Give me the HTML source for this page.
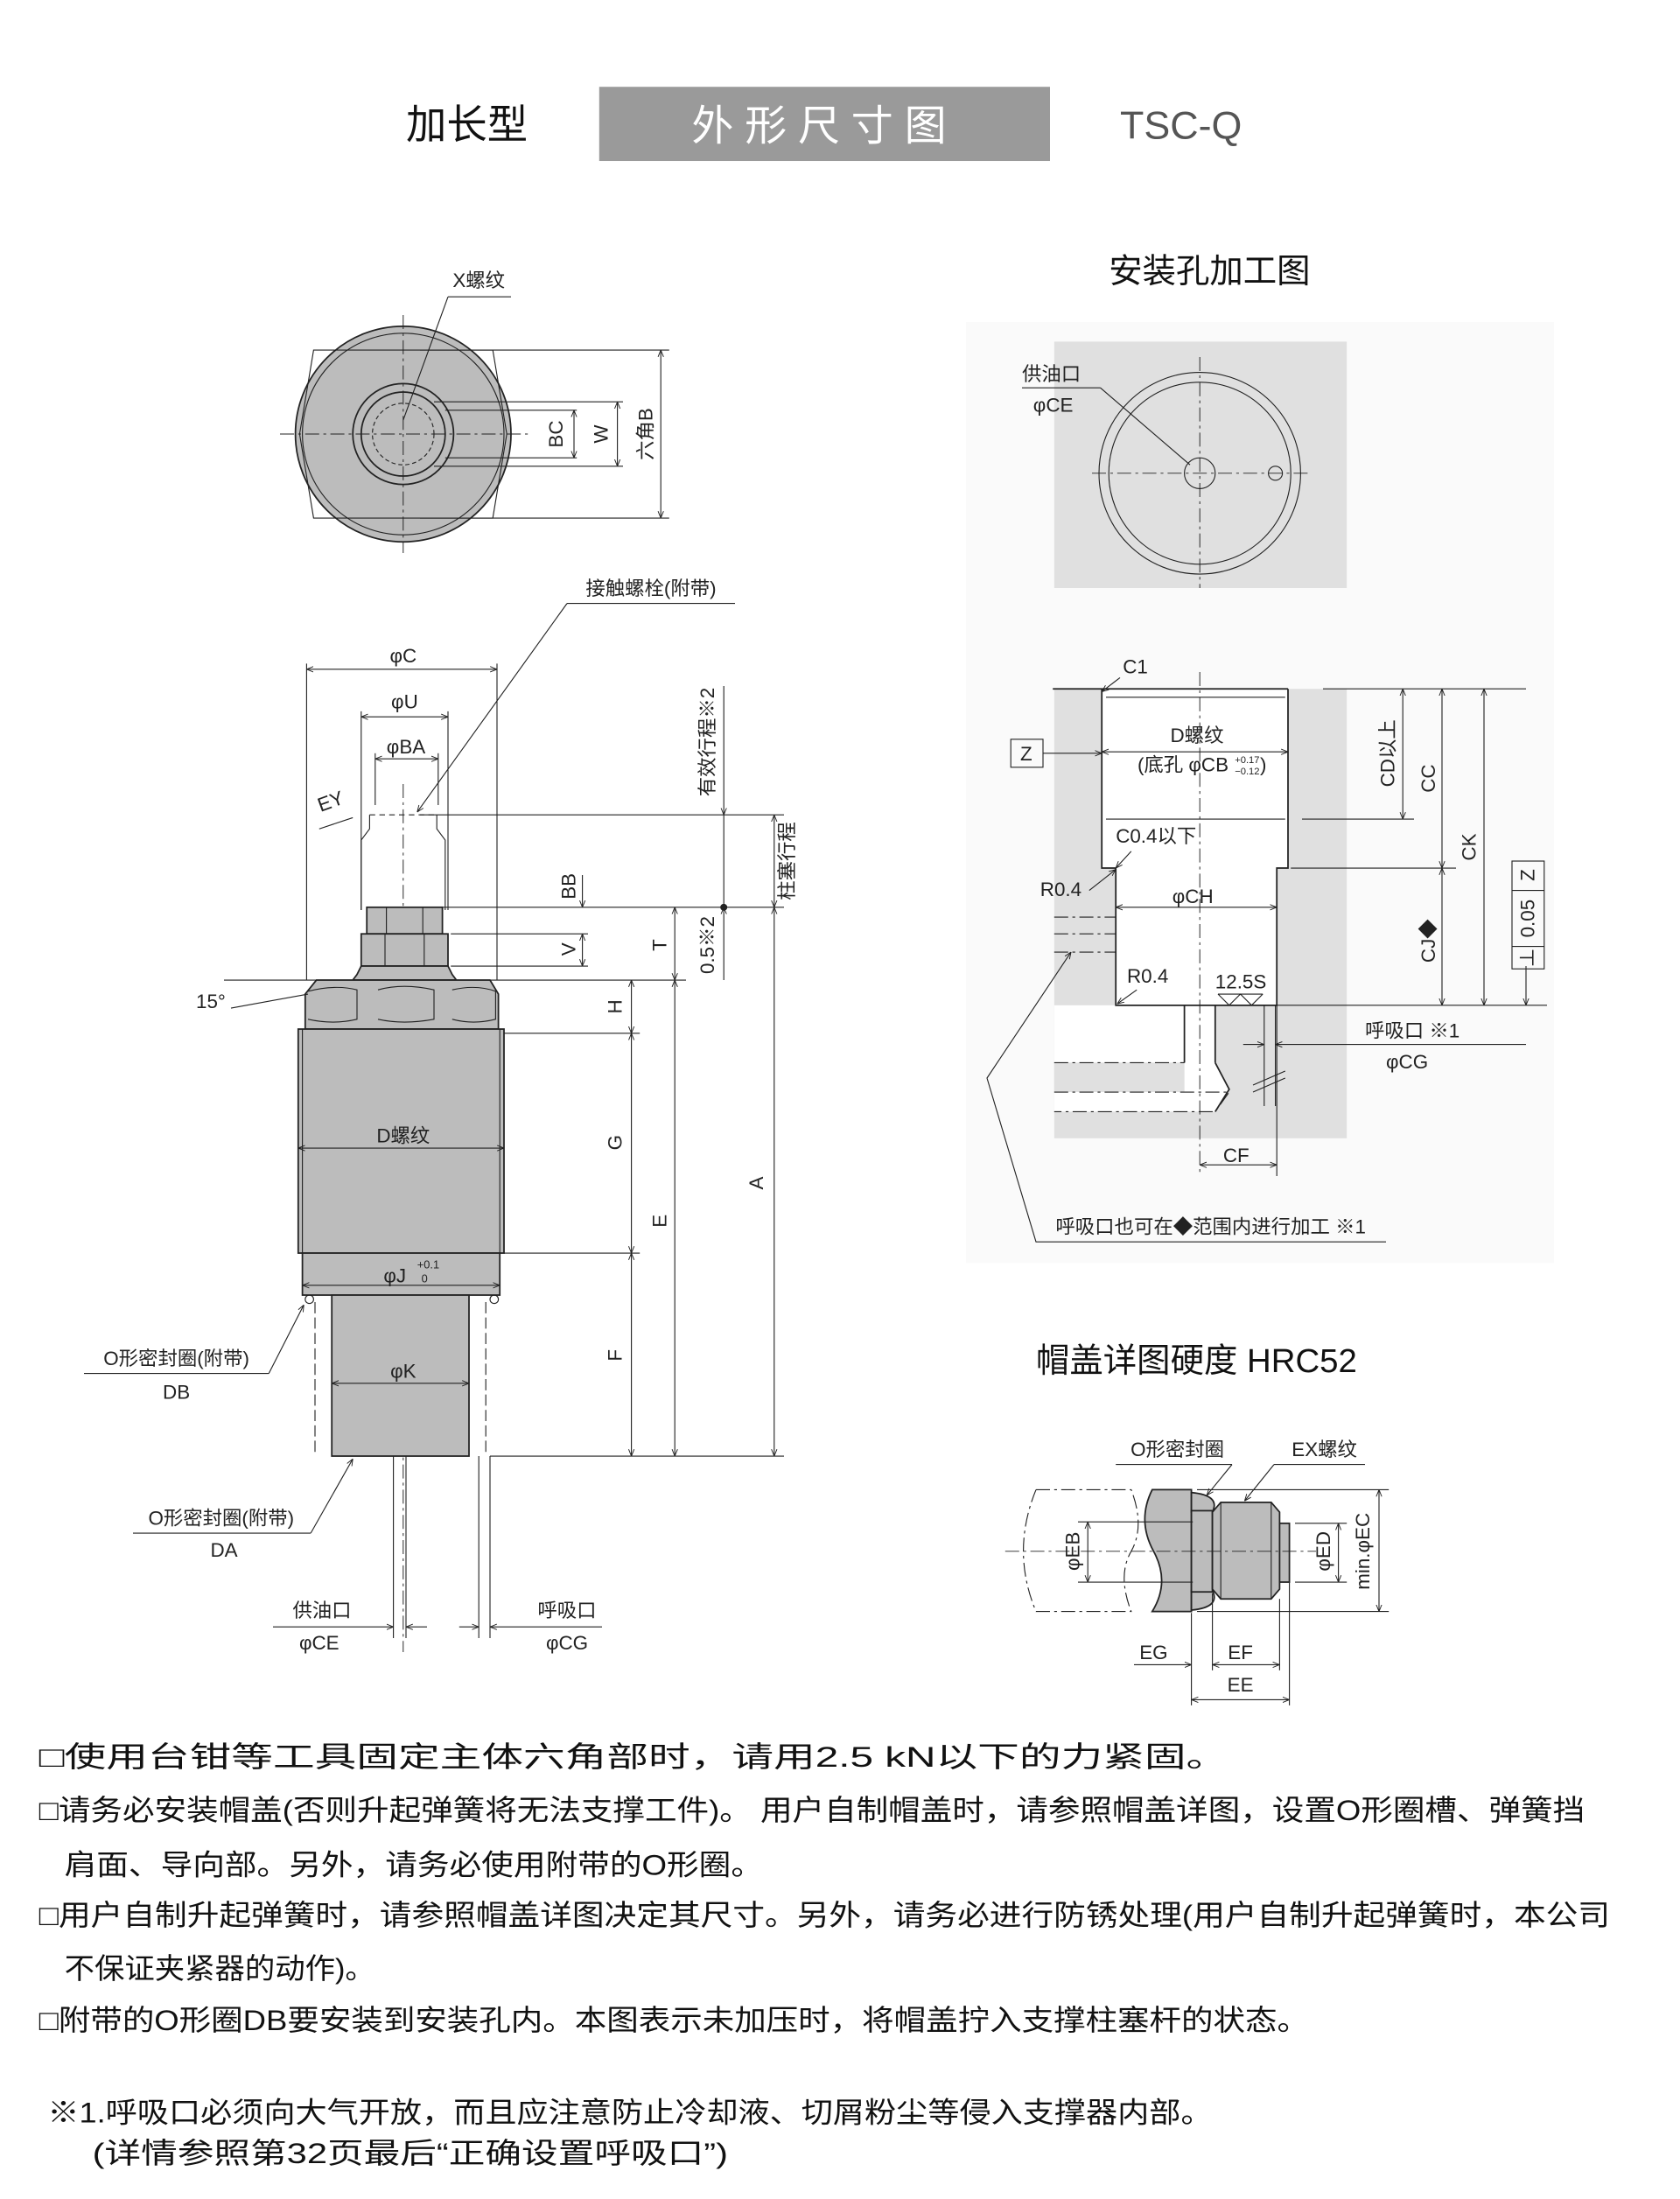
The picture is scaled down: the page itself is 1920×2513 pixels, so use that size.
<!DOCTYPE html>
<html><head><meta charset="utf-8"><style>
html,body{margin:0;padding:0;background:#fff}
svg{display:block}
text{font-family:"Liberation Sans","Noto Sans CJK SC",sans-serif;fill:#222}
.s{stroke:#222;stroke-width:1.1;fill:none}
.t{stroke:#222;stroke-width:0.7;fill:none}
.c{stroke:#222;stroke-width:0.6;fill:none;stroke-dasharray:10 3 2 3}
.g{fill:#bcbcbc;stroke:#222;stroke-width:1.1}
.l{font-size:14px}
.n{font-size:20.5px;fill:#111}
</style></head><body>
<svg width="1920" height="2513" viewBox="0 0 1200 1570.6" xmlns="http://www.w3.org/2000/svg">
<defs><marker id="a" viewBox="0 0 10 10" refX="10" refY="5" markerWidth="7" markerHeight="7" orient="auto-start-reverse"><path d="M0,1 L10,5 L0,9" fill="none" stroke="#222" stroke-width="1.2"/></marker></defs>
<!-- header -->
<text x="290" y="99" style="font-size:29px;fill:#111">加长型</text>
<rect x="428" y="62" width="322" height="53" fill="#9a9a9a"/>
<text x="589" y="100" text-anchor="middle" style="font-size:30px;fill:#fff;letter-spacing:8px">外形尺寸图</text>
<text x="800" y="99" style="font-size:28px;fill:#555">TSC-Q</text>
<text x="864" y="202" text-anchor="middle" style="font-size:24px;fill:#111">安装孔加工图</text>

<!-- top view -->
<circle cx="288" cy="310" r="77" class="g"/>
<circle cx="288" cy="310" r="72" class="t"/>
<path d="M224,250 L352,250 L362,310 L352,370 L224,370 L214,310 Z" class="t" fill="#c4c4c4"/>
<circle cx="288" cy="310" r="36" class="s" fill="#bcbcbc"/>
<circle cx="288" cy="310" r="30" class="s" fill="#d4d4d4"/>
<circle cx="288" cy="310" r="22" class="t" stroke-dasharray="3 2"/>
<line x1="200" y1="310" x2="378" y2="310" class="c"/>
<line x1="288" y1="225" x2="288" y2="395" class="c"/>
<line x1="300" y1="250" x2="478" y2="250" class="t"/>
<line x1="300" y1="370" x2="478" y2="370" class="t"/>
<line x1="310" y1="287" x2="445" y2="287" class="t"/>
<line x1="310" y1="333" x2="445" y2="333" class="t"/>
<line x1="318" y1="293" x2="412" y2="293" class="t"/>
<line x1="318" y1="327" x2="412" y2="327" class="t"/>
<line x1="410" y1="293" x2="410" y2="327" class="t" marker-start="url(#a)" marker-end="url(#a)"/>
<line x1="441" y1="287" x2="441" y2="333" class="t" marker-start="url(#a)" marker-end="url(#a)"/>
<line x1="472" y1="250" x2="472" y2="370" class="t" marker-start="url(#a)" marker-end="url(#a)"/>
<text transform="translate(402,310) rotate(-90)" text-anchor="middle" class="l">BC</text>
<text transform="translate(434,310) rotate(-90)" text-anchor="middle" class="l">W</text>
<text transform="translate(466,310) rotate(-90)" text-anchor="middle" class="l">六角B</text>
<text x="342" y="205" text-anchor="middle" class="l">X螺纹</text>
<line x1="320" y1="212" x2="365" y2="212" class="t"/>
<line x1="320" y1="212" x2="288" y2="300" class="t"/>

<!-- side view -->
<text x="465" y="425" text-anchor="middle" class="l">接触螺栓(附带)</text>
<line x1="405" y1="431" x2="525" y2="431" class="t"/>
<line x1="405" y1="431" x2="298" y2="580" class="t" marker-end="url(#a)"/>
<line x1="219" y1="474" x2="219" y2="700" class="t"/>
<line x1="355" y1="474" x2="355" y2="700" class="t"/>
<line x1="219" y1="478" x2="355" y2="478" class="t" marker-start="url(#a)" marker-end="url(#a)"/>
<text x="288" y="473" text-anchor="middle" class="l">φC</text>
<line x1="258" y1="508" x2="258" y2="650" class="t"/>
<line x1="320" y1="508" x2="320" y2="650" class="t"/>
<line x1="258" y1="512" x2="320" y2="512" class="t" marker-start="url(#a)" marker-end="url(#a)"/>
<text x="289" y="506" text-anchor="middle" class="l">φU</text>
<line x1="268" y1="538" x2="268" y2="575" class="t"/>
<line x1="313" y1="538" x2="313" y2="575" class="t"/>
<line x1="268" y1="542" x2="313" y2="542" class="t" marker-start="url(#a)" marker-end="url(#a)"/>
<text x="290" y="538" text-anchor="middle" class="l">φBA</text>
<path d="M264,582 L312,582" class="t" stroke-dasharray="4 3"/>
<path d="M264,582 L264,592 L258,600 L258,650 M312,582 L312,592 L318,600 L318,650" class="t"/>
<text x="229" y="580" transform="rotate(-20 229 580)" class="l">EY</text>
<line x1="228" y1="592" x2="252" y2="584" class="t"/>
<line x1="288" y1="560" x2="288" y2="1180" class="c"/>
<!-- nut -->
<rect x="262" y="648" width="54" height="19" class="g"/>
<line x1="276" y1="648" x2="276" y2="667" class="t"/><line x1="302" y1="648" x2="302" y2="667" class="t"/>
<rect x="258" y="667" width="62" height="23" class="g"/>
<line x1="275" y1="667" x2="275" y2="690" class="t"/><line x1="303" y1="667" x2="303" y2="690" class="t"/>
<path d="M258,690 L320,690 L323,696 L326,700 L252,700 L255,696 Z" class="g"/>
<!-- hex body -->
<path d="M218,710 L226,700 L350,700 L356,710 L356,735 L218,735 Z" class="g"/>
<path d="M220,708 Q240,703 255,707 L255,728 Q238,732 220,728 M270,707 Q288,702 310,707 L310,728 Q288,732 270,728 M323,707 Q340,703 354,708 L354,728 Q338,732 323,728" class="t"/>
<rect x="213" y="735" width="147" height="160" class="g"/>
<line x1="216" y1="735" x2="216" y2="895" class="t"/><line x1="357" y1="735" x2="357" y2="895" class="t"/>
<line x1="213" y1="820" x2="360" y2="820" class="t" marker-start="url(#a)" marker-end="url(#a)"/>
<text x="288" y="816" text-anchor="middle" class="l">D螺纹</text>
<rect x="216" y="895" width="141" height="30" class="g"/>
<line x1="216" y1="918" x2="357" y2="918" class="t" marker-start="url(#a)" marker-end="url(#a)"/>
<text x="282" y="916" text-anchor="middle" class="l">φJ</text>
<text x="298" y="906" style="font-size:8px">+0.1</text><text x="301" y="916" style="font-size:8px">0</text>
<rect x="218" y="925" width="6" height="6" rx="3" class="t"/><rect x="350" y="925" width="6" height="6" rx="3" class="t"/>
<rect x="237" y="925" width="98" height="115" class="g"/>
<line x1="225" y1="930" x2="225" y2="1040" class="t" stroke-dasharray="8 3"/>
<line x1="347" y1="930" x2="347" y2="1040" class="t" stroke-dasharray="8 3"/>
<line x1="237" y1="988" x2="335" y2="988" class="t" marker-start="url(#a)" marker-end="url(#a)"/>
<text x="288" y="984" text-anchor="middle" class="l">φK</text>
<line x1="281" y1="1040" x2="281" y2="1170" class="t"/><line x1="290" y1="1040" x2="290" y2="1170" class="t"/>
<line x1="342" y1="1040" x2="342" y2="1170" class="t"/><line x1="350" y1="1040" x2="350" y2="1170" class="t"/>
<!-- extension lines -->
<line x1="300" y1="582" x2="560" y2="582" class="t"/>
<line x1="300" y1="648" x2="560" y2="648" class="t"/>
<line x1="322" y1="667" x2="420" y2="667" class="t"/>
<line x1="322" y1="690" x2="420" y2="690" class="t"/>
<line x1="160" y1="700" x2="490" y2="700" class="t"/>
<line x1="165" y1="720" x2="220" y2="710" class="t"/>
<text x="140" y="720" class="l">15°</text>
<line x1="360" y1="738" x2="457" y2="738" class="t"/>
<line x1="360" y1="895" x2="457" y2="895" class="t"/>
<line x1="350" y1="1040" x2="560" y2="1040" class="t"/>
<line x1="416" y1="625" x2="416" y2="648" class="t" marker-end="url(#a)"/>
<line x1="416" y1="667" x2="416" y2="690" class="t" marker-start="url(#a)" marker-end="url(#a)"/>
<text transform="translate(411,633) rotate(-90)" text-anchor="middle" class="l">BB</text>
<text transform="translate(411,678) rotate(-90)" text-anchor="middle" class="l">V</text>
<line x1="451" y1="700" x2="451" y2="738" class="t" marker-start="url(#a)" marker-end="url(#a)"/>
<line x1="451" y1="738" x2="451" y2="895" class="t" marker-start="url(#a)" marker-end="url(#a)"/>
<line x1="451" y1="895" x2="451" y2="1040" class="t" marker-start="url(#a)" marker-end="url(#a)"/>
<text transform="translate(444,719) rotate(-90)" text-anchor="middle" class="l">H</text>
<text transform="translate(444,816) rotate(-90)" text-anchor="middle" class="l">G</text>
<text transform="translate(444,968) rotate(-90)" text-anchor="middle" class="l">F</text>
<line x1="482" y1="648" x2="482" y2="700" class="t" marker-start="url(#a)" marker-end="url(#a)"/>
<line x1="482" y1="700" x2="482" y2="1040" class="t" marker-start="url(#a)" marker-end="url(#a)"/>
<text transform="translate(476,675) rotate(-90)" text-anchor="middle" class="l">T</text>
<text transform="translate(476,872) rotate(-90)" text-anchor="middle" class="l">E</text>
<line x1="517" y1="490" x2="517" y2="582" class="t" marker-end="url(#a)"/>
<line x1="517" y1="582" x2="517" y2="648" class="t"/>
<circle cx="517" cy="648" r="2.5" fill="#222"/>
<line x1="517" y1="700" x2="517" y2="648" class="t" marker-end="url(#a)"/>
<text transform="translate(510,530) rotate(-90)" text-anchor="middle" class="l">有效行程※2</text>
<text transform="translate(510,675) rotate(-90)" text-anchor="middle" class="l">0.5※2</text>
<line x1="553" y1="582" x2="553" y2="648" class="t" marker-start="url(#a)" marker-end="url(#a)"/>
<line x1="553" y1="648" x2="553" y2="1040" class="t" marker-start="url(#a)" marker-end="url(#a)"/>
<text transform="translate(567,615) rotate(-90)" text-anchor="middle" class="l">柱塞行程</text>
<text transform="translate(545,845) rotate(-90)" text-anchor="middle" class="l">A</text>
<text x="126" y="975" text-anchor="middle" class="l">O形密封圈(附带)</text>
<text x="126" y="999" text-anchor="middle" class="l">DB</text>
<line x1="60" y1="981" x2="192" y2="981" class="t"/>
<line x1="192" y1="981" x2="217" y2="932" class="t" marker-end="url(#a)"/>
<text x="158" y="1089" text-anchor="middle" class="l">O形密封圈(附带)</text>
<text x="160" y="1112" text-anchor="middle" class="l">DA</text>
<line x1="95" y1="1095" x2="222" y2="1095" class="t"/>
<line x1="222" y1="1095" x2="252" y2="1042" class="t" marker-end="url(#a)"/>
<text x="230" y="1155" text-anchor="middle" class="l">供油口</text>
<text x="228" y="1178" text-anchor="middle" class="l">φCE</text>
<line x1="195" y1="1162" x2="281" y2="1162" class="t" marker-end="url(#a)"/>
<line x1="305" y1="1162" x2="290" y2="1162" class="t" marker-end="url(#a)"/>
<text x="405" y="1155" text-anchor="middle" class="l">呼吸口</text>
<text x="405" y="1178" text-anchor="middle" class="l">φCG</text>
<line x1="328" y1="1162" x2="342" y2="1162" class="t" marker-end="url(#a)"/>
<line x1="430" y1="1162" x2="350" y2="1162" class="t" marker-end="url(#a)"/>

<!-- mounting hole top view -->
<rect x="690" y="230" width="420" height="672" fill="#fafafa"/>
<rect x="753" y="244" width="209" height="176" fill="#e0e0e0"/>
<circle cx="857" cy="338" r="72" fill="#fff" class="t"/>
<circle cx="857" cy="338" r="65" class="t"/>
<circle cx="857" cy="338" r="11" class="t"/>
<circle cx="911" cy="338" r="5" class="t"/>
<line x1="780" y1="338" x2="935" y2="338" class="c"/>
<line x1="857" y1="255" x2="857" y2="420" class="c"/>
<text x="730" y="272" class="l">供油口</text>
<text x="738" y="294" class="l">φCE</text>
<line x1="730" y1="277" x2="786" y2="277" class="t"/>
<line x1="786" y1="277" x2="850" y2="332" class="t"/>

<!-- mounting hole section -->
<rect x="753" y="492" width="209" height="321" fill="#e0e0e0"/>
<path d="M787,492 L920,492 L920,620 L912,620 L912,718 L868,718 L868,759 L878,778 L868,794 L753,794 L753,780 L846,780 L846,759 L753,759 L753,718 L797,718 L797,620 L787,620 Z" fill="#fff"/>
<rect x="753" y="759" width="93" height="21" fill="#e0e0e0"/>
<line x1="752" y1="492" x2="920" y2="492" class="s"/>
<line x1="945" y1="492" x2="1090" y2="492" class="t"/>
<path d="M787,492 L787,620 L797,620 L797,718 L912,718 L912,620 L920,620 L920,492" class="s"/>
<line x1="790" y1="498" x2="918" y2="498" class="t"/>
<line x1="790" y1="585" x2="918" y2="585" class="t"/>
<line x1="930" y1="585" x2="1010" y2="585" class="t"/>
<line x1="922" y1="620" x2="1040" y2="620" class="t"/>
<line x1="912" y1="718" x2="1105" y2="718" class="t"/>
<line x1="857" y1="480" x2="857" y2="840" class="c"/>
<line x1="846" y1="718" x2="846" y2="759" class="s"/><line x1="868" y1="718" x2="868" y2="759" class="s"/>
<path d="M753,759 L846,759 M753,780 L878,780 L868,794 L753,794" class="t" stroke-dasharray="10 3 2 3"/>
<path d="M868,759 L878,778 L868,794" class="s"/>
<path d="M753,655 L797,655 M753,667 L797,667 M753,680 L797,680" class="t" stroke-dasharray="10 3 2 3"/>
<line x1="903" y1="718" x2="903" y2="790" class="t"/><line x1="911" y1="718" x2="911" y2="790" class="t"/>
<line x1="912" y1="718" x2="912" y2="840" class="t"/>
<line x1="895" y1="775" x2="918" y2="765" class="t"/><line x1="895" y1="780" x2="918" y2="770" class="t"/>
<line x1="857" y1="832" x2="912" y2="832" class="t" marker-start="url(#a)" marker-end="url(#a)"/>
<text x="883" y="830" text-anchor="middle" class="l">CF</text>
<line x1="1002" y1="492" x2="1002" y2="585" class="t" marker-start="url(#a)" marker-end="url(#a)"/>
<line x1="1030" y1="492" x2="1030" y2="620" class="t" marker-start="url(#a)" marker-end="url(#a)"/>
<line x1="1030" y1="620" x2="1030" y2="718" class="t" marker-start="url(#a)" marker-end="url(#a)"/>
<line x1="1060" y1="492" x2="1060" y2="718" class="t" marker-start="url(#a)" marker-end="url(#a)"/>
<line x1="1090" y1="690" x2="1090" y2="718" class="t" marker-end="url(#a)"/>
<text transform="translate(996,538) rotate(-90)" text-anchor="middle" class="l">CD以上</text>
<text transform="translate(1025,556) rotate(-90)" text-anchor="middle" class="l">CC</text>
<text transform="translate(1054,605) rotate(-90)" text-anchor="middle" class="l">CK</text>
<text transform="translate(1025,672) rotate(-90)" text-anchor="middle" class="l">CJ◆</text>
<rect x="1080" y="615" width="23" height="77" class="t"/>
<line x1="1080" y1="636" x2="1103" y2="636" class="t"/><line x1="1080" y1="676" x2="1103" y2="676" class="t"/>
<text transform="translate(1096,625) rotate(-90)" text-anchor="middle" class="l">Z</text>
<text transform="translate(1096,656) rotate(-90)" text-anchor="middle" class="l">0.05</text>
<text transform="translate(1096,684) rotate(-90)" text-anchor="middle" class="l">⊥</text>
<rect x="722" y="528" width="23" height="20" fill="#fff" class="t"/>
<text x="733" y="543" text-anchor="middle" class="l">Z</text>
<line x1="745" y1="538" x2="787" y2="538" class="t" marker-end="url(#a)"/>
<line x1="787" y1="537" x2="920" y2="537" class="t" marker-start="url(#a)" marker-end="url(#a)"/>
<text x="855" y="530" text-anchor="middle" class="l">D螺纹</text>
<text x="845" y="551" text-anchor="middle" class="l">(底孔 φCB</text>
<text x="882" y="545" style="font-size:7px">+0.17</text><text x="882" y="553" style="font-size:7px">−0.12</text><text x="900" y="551" class="l">)</text>
<text x="802" y="481" class="l">C1</text>
<line x1="800" y1="484" x2="787" y2="494" class="t" marker-end="url(#a)"/>
<text x="797" y="602" class="l">C0.4以下</text>
<line x1="808" y1="608" x2="797" y2="620" class="t" marker-end="url(#a)"/>
<text x="743" y="640" class="l">R0.4</text>
<line x1="778" y1="636" x2="797" y2="621" class="t" marker-end="url(#a)"/>
<line x1="797" y1="648" x2="912" y2="648" class="t" marker-start="url(#a)" marker-end="url(#a)"/>
<text x="852" y="645" text-anchor="middle" class="l">φCH</text>
<text x="805" y="702" class="l">R0.4</text>
<line x1="812" y1="707" x2="798" y2="717" class="t" marker-end="url(#a)"/>
<text x="868" y="706" class="l">12.5S</text>
<path d="M870,710 L878,718 L886,710 L894,718 L902,710 M870,710 L902,710" class="t"/>
<text x="975" y="741" class="l">呼吸口 ※1</text>
<text x="990" y="763" class="l">φCG</text>
<line x1="888" y1="746" x2="903" y2="746" class="t" marker-end="url(#a)"/>
<line x1="1090" y1="746" x2="911" y2="746" class="t" marker-end="url(#a)"/>
<path d="M990,887 L740,887 L705,770 L765,680" class="t" marker-end="url(#a)"/>
<text x="754" y="881" class="l">呼吸口也可在◆范围内进行加工 ※1</text>

<!-- cap detail -->
<text x="740" y="980" style="font-size:24px;fill:#111">帽盖详图硬度 HRC52</text>
<text x="841" y="1040" text-anchor="middle" class="l">O形密封圈</text>
<line x1="797" y1="1046" x2="880" y2="1046" class="t"/>
<line x1="880" y1="1046" x2="862" y2="1068" class="t" marker-end="url(#a)"/>
<text x="946" y="1040" text-anchor="middle" class="l">EX螺纹</text>
<line x1="910" y1="1046" x2="975" y2="1046" class="t"/>
<line x1="910" y1="1046" x2="889" y2="1072" class="t" marker-end="url(#a)"/>
<path d="M740,1064 L808,1064 Q818,1090 808,1108 Q798,1125 808,1151 L740,1151 Q722,1108 740,1064" class="t" stroke-dasharray="10 3 2 3"/>
<path d="M851,1064 L823,1064 Q812,1086 824,1108 Q836,1130 823,1151 L851,1151 Z" class="g"/>
<path d="M851,1066 Q872,1068 866,1080 L851,1080 Z M851,1150 Q872,1148 866,1136 L851,1136 Z" class="g"/>
<rect x="851" y="1079" width="15" height="58" class="g"/>
<path d="M866,1080 L872,1073 L908,1073 L914,1080 L914,1135 L908,1142 L872,1142 L866,1135 Z" class="g"/>
<line x1="872" y1="1073" x2="872" y2="1142" class="t"/><line x1="908" y1="1073" x2="908" y2="1142" class="t"/>
<rect x="914" y="1088" width="7" height="42" class="g"/>
<line x1="718" y1="1108" x2="940" y2="1108" class="c"/>
<line x1="770" y1="1087" x2="852" y2="1087" class="t"/><line x1="770" y1="1130" x2="852" y2="1130" class="t"/>
<line x1="777" y1="1087" x2="777" y2="1130" class="t" marker-start="url(#a)" marker-end="url(#a)"/>
<text transform="translate(771,1108) rotate(-90)" text-anchor="middle" class="l">φEB</text>
<line x1="925" y1="1088" x2="962" y2="1088" class="t"/><line x1="925" y1="1130" x2="962" y2="1130" class="t"/>
<line x1="956" y1="1088" x2="956" y2="1130" class="t" marker-start="url(#a)" marker-end="url(#a)"/>
<text transform="translate(950,1108) rotate(-90)" text-anchor="middle" class="l">φED</text>
<line x1="855" y1="1064" x2="992" y2="1064" class="t"/><line x1="855" y1="1151" x2="992" y2="1151" class="t"/>
<line x1="985" y1="1064" x2="985" y2="1151" class="t" marker-start="url(#a)" marker-end="url(#a)"/>
<text transform="translate(978,1108) rotate(-90)" text-anchor="middle" class="l">min.φEC</text>
<line x1="851" y1="1152" x2="851" y2="1218" class="t"/>
<line x1="866" y1="1138" x2="866" y2="1193" class="t"/>
<line x1="914" y1="1142" x2="914" y2="1193" class="t"/>
<line x1="921" y1="1130" x2="921" y2="1218" class="t"/>
<line x1="810" y1="1189" x2="851" y2="1189" class="t" marker-end="url(#a)"/>
<line x1="866" y1="1189" x2="914" y2="1189" class="t" marker-start="url(#a)" marker-end="url(#a)"/>
<line x1="851" y1="1214" x2="921" y2="1214" class="t" marker-start="url(#a)" marker-end="url(#a)"/>
<text x="824" y="1185" text-anchor="middle" class="l">EG</text>
<text x="886" y="1185" text-anchor="middle" class="l">EF</text>
<text x="886" y="1208" text-anchor="middle" class="l">EE</text>

<!-- notes -->
<text x="28" y="1262" class="n" textLength="849" lengthAdjust="spacingAndGlyphs">□使用台钳等工具固定主体六角部时，请用2.5 kN以下的力紧固。</text>
<text x="28" y="1300" class="n" textLength="1104" lengthAdjust="spacingAndGlyphs">□请务必安装帽盖(否则升起弹簧将无法支撑工件)。 用户自制帽盖时，请参照帽盖详图，设置O形圈槽、弹簧挡</text>
<text x="46" y="1339" class="n" textLength="499" lengthAdjust="spacingAndGlyphs">肩面、导向部。另外，请务必使用附带的O形圈。</text>
<text x="28" y="1375" class="n" textLength="1122" lengthAdjust="spacingAndGlyphs">□用户自制升起弹簧时，请参照帽盖详图决定其尺寸。另外，请务必进行防锈处理(用户自制升起弹簧时，本公司</text>
<text x="46" y="1413" class="n" textLength="222" lengthAdjust="spacingAndGlyphs">不保证夹紧器的动作)。</text>
<text x="28" y="1450" class="n" textLength="907" lengthAdjust="spacingAndGlyphs">□附带的O形圈DB要安装到安装孔内。本图表示未加压时，将帽盖拧入支撑柱塞杆的状态。</text>
<text x="34" y="1516" class="n" textLength="832" lengthAdjust="spacingAndGlyphs">※1.呼吸口必须向大气开放，而且应注意防止冷却液、切屑粉尘等侵入支撑器内部。</text>
<text x="66" y="1545" class="n" textLength="454" lengthAdjust="spacingAndGlyphs">(详情参照第32页最后“正确设置呼吸口”)</text>
</svg>
</body></html>
